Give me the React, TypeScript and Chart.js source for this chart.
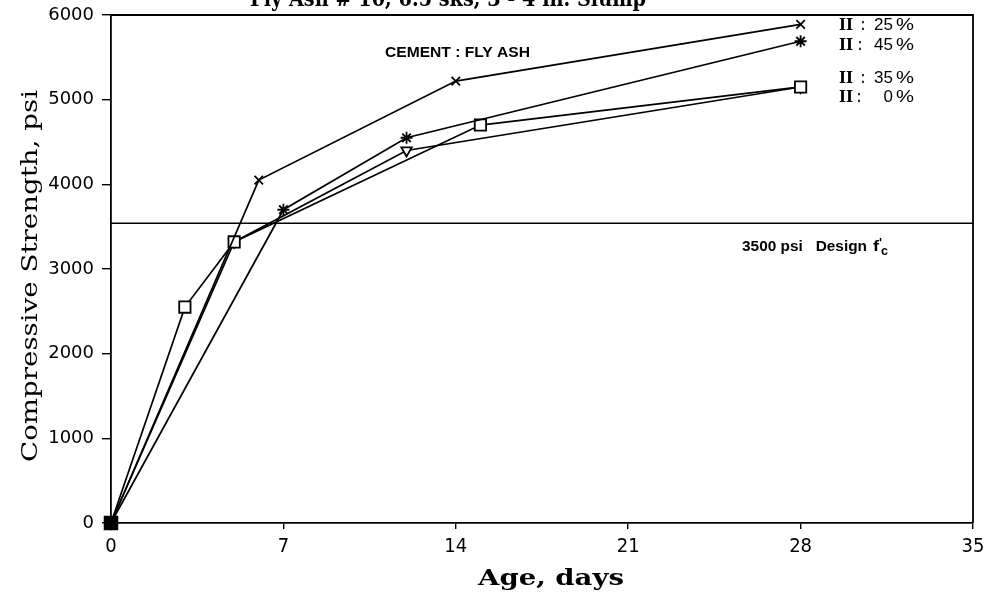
import React, { useEffect, useRef } from "react";
import { Chart, registerables } from "chart.js";

Chart.register(...registerables);

// ---- data ----
const ageDays25 = [0, 6, 14, 28];
const strength25 = [0, 4050, 5220, 5890];
const ageDays45 = [0, 7, 12, 28];
const strength45 = [0, 3700, 4550, 5690];
const ageDays35 = [0, 3, 5, 15, 28];
const strength35 = [0, 2550, 3320, 4700, 5150];
const ageDays0 = [0, 5, 12, 28];
const strength0 = [0, 3320, 4400, 5150];
const designLineX = [0, 35];
const designLineY = [3540, 3540];
const xTickValues = [0, 7, 14, 21, 28, 35];
const yTickValues = [0, 1000, 2000, 3000, 4000, 5000, 6000];
const seriesPercents = ["25", "45", "35", "0"];
const titleText = "Fly Ash # 10, 6.5 sks, 3 - 4 in. Slump";
const yTitle = "Compressive Strength, psi";
const xTitle = "Age, days";
const ratioText = "CEMENT : FLY ASH";
const designText = "3500 psi   Design";

const pts = (xs: number[], ys: number[]) => xs.map((x, i) => ({ x, y: ys[i] }));

function fitText(
  ctx: CanvasRenderingContext2D,
  text: string,
  x: number,
  y: number,
  width: number,
  font: string,
  rotate = 0
) {
  ctx.save();
  ctx.font = font;
  const w = ctx.measureText(text).width;
  const s = width / w;
  ctx.translate(x, y);
  if (rotate) ctx.rotate(rotate);
  ctx.scale(s, 1);
  ctx.fillStyle = "#000";
  ctx.textAlign = rotate ? "center" : "left";
  ctx.textBaseline = rotate ? "middle" : "alphabetic";
  ctx.fillText(text, 0, 0);
  ctx.restore();
}

const decorPlugin = {
  id: "decor",
  afterDraw(chart: any) {
    const ctx: CanvasRenderingContext2D = chart.ctx;
    const a = chart.chartArea;
    ctx.save();
    ctx.strokeStyle = "#000";
    ctx.lineWidth = 1.8;
    ctx.beginPath();
    ctx.moveTo(a.left, a.top);
    ctx.lineTo(a.right, a.top);
    ctx.lineTo(a.right, a.bottom);
    ctx.stroke();
    ctx.restore();

    // cut-off title
    fitText(ctx, titleText, 250, 6, 396, 'bold 22px "DejaVu Serif", serif');
    // y title
    fitText(ctx, yTitle, 31, 276, 372, '22px "DejaVu Serif", serif', -Math.PI / 2);
    // x title
    fitText(ctx, xTitle, 478, 585, 146, 'bold 22px "DejaVu Serif", serif');
    // annotations
    fitText(ctx, ratioText, 385, 57, 145, 'bold 14px "Liberation Sans", sans-serif');
    fitText(ctx, designText, 742, 251, 125, 'bold 15px "Liberation Sans", sans-serif');
    fitText(ctx, "f", 873, 251, 6, 'bold 15px "Liberation Sans", sans-serif');
    fitText(ctx, "'", 879, 247, 3, 'bold 12px "Liberation Sans", sans-serif');
    fitText(ctx, "c", 881, 255, 7, 'bold 13px "Liberation Sans", sans-serif');

    // end labels
    const baselines = [30, 50, 83, 102];
    const colonX = [861, 858, 861, 857];
    seriesPercents.forEach((p, i) => {
      const b = baselines[i];
      fitText(ctx, "II", 839, b, 14, 'bold 17px "DejaVu Serif", serif');
      fitText(ctx, ":", colonX[i], b, 4, 'bold 16px "Liberation Sans", sans-serif');
      ctx.save();
      ctx.font = '17px "Liberation Sans", sans-serif';
      ctx.fillStyle = "#000";
      ctx.textAlign = "right";
      ctx.fillText(p, 893, b);
      ctx.restore();
      fitText(ctx, "%", 896, b, 18, '17px "Liberation Sans", sans-serif');
    });
  },
};

export default function App() {
  const ref = useRef<HTMLCanvasElement>(null);
  useEffect(() => {
    if (!ref.current) return;
    const common = {
      borderColor: "#000",
      borderWidth: 1.7,
      pointBorderColor: "#000",
      pointBorderWidth: 1.8,
      tension: 0,
      fill: false,
      clip: false,
    };
    const chart = new Chart(ref.current, {
      type: "line",
      data: {
        datasets: [
          {
            ...common,
            label: "II : 25 %",
            data: pts(ageDays25, strength25),
            pointStyle: "crossRot",
            pointRadius: 6,
            pointBackgroundColor: "#000",
          },
          {
            ...common,
            label: "II : 45 %",
            data: pts(ageDays45, strength45),
            pointStyle: "star",
            pointRadius: 6,
            pointBackgroundColor: "#000",
          },
          {
            ...common,
            label: "II : 35 %",
            data: pts(ageDays35, strength35),
            pointStyle: "rect",
            pointRadius: [9, 8, 8, 8, 8],
            pointBackgroundColor: ["#000", "#fff", "#fff", "#fff", "#fff"],
          },
          {
            ...common,
            label: "II : 0 %",
            data: pts(ageDays0, strength0),
            pointStyle: "triangle",
            pointRotation: 180,
            pointRadius: 6,
            pointBackgroundColor: ["#000", "rgba(0,0,0,0)", "#fff", "rgba(0,0,0,0)"],
          },
          {
            ...common,
            label: "design",
            data: pts(designLineX, designLineY),
            pointRadius: 0,
            borderWidth: 1.6,
          },
        ] as any,
      },
      options: {
        animation: false,
        responsive: false,
        devicePixelRatio: 1,
        layout: { padding: { top: 15, right: 20, left: 0, bottom: 0 } },
        plugins: {
          legend: { display: false },
          tooltip: { enabled: false },
          title: { display: false },
        },
        scales: {
          x: {
            type: "linear",
            min: 0,
            max: 35,
            afterFit: (s: any) => {
              s.height = 70;
              s.paddingLeft = 0;
              s.paddingRight = 0;
            },
            afterBuildTicks: (s: any) => {
              s.ticks = xTickValues.map((v) => ({ value: v }));
            },
            grid: {
              display: true,
              drawOnChartArea: false,
              drawTicks: true,
              tickLength: 6,
              color: "#000",
              lineWidth: 1.4,
            },
            border: { display: true, color: "#000", width: 1.8 },
            ticks: {
              color: "#000",
              padding: 6,
              maxRotation: 0,
              callback: (v: any) => String(v),
              font: { family: '"Liberation Sans Narrow", "DejaVu Sans Condensed", sans-serif', size: 20 },
            },
          },
          y: {
            type: "linear",
            min: 0,
            max: 6000,
            afterFit: (s: any) => {
              s.width = 111;
              s.paddingTop = 0;
              s.paddingBottom = 0;
            },
            afterBuildTicks: (s: any) => {
              s.ticks = yTickValues.map((v) => ({ value: v }));
            },
            grid: {
              display: true,
              drawOnChartArea: false,
              drawTicks: true,
              tickLength: 9,
              color: "#000",
              lineWidth: 1.4,
            },
            border: { display: true, color: "#000", width: 1.8 },
            ticks: {
              color: "#000",
              padding: 8,
              callback: (v: any) => String(v),
              font: { family: '"DejaVu Sans", sans-serif', size: 18 },
            },
          },
        },
      } as any,
      plugins: [decorPlugin],
    });
    return () => chart.destroy();
  }, []);
  return (
    <div style={{ position: "fixed", left: 0, top: 0, width: 993, height: 593, background: "#fff" }}>
      <canvas ref={ref} width={993} height={593} style={{ display: "block", width: 993, height: 593 }} />
    </div>
  );
}
